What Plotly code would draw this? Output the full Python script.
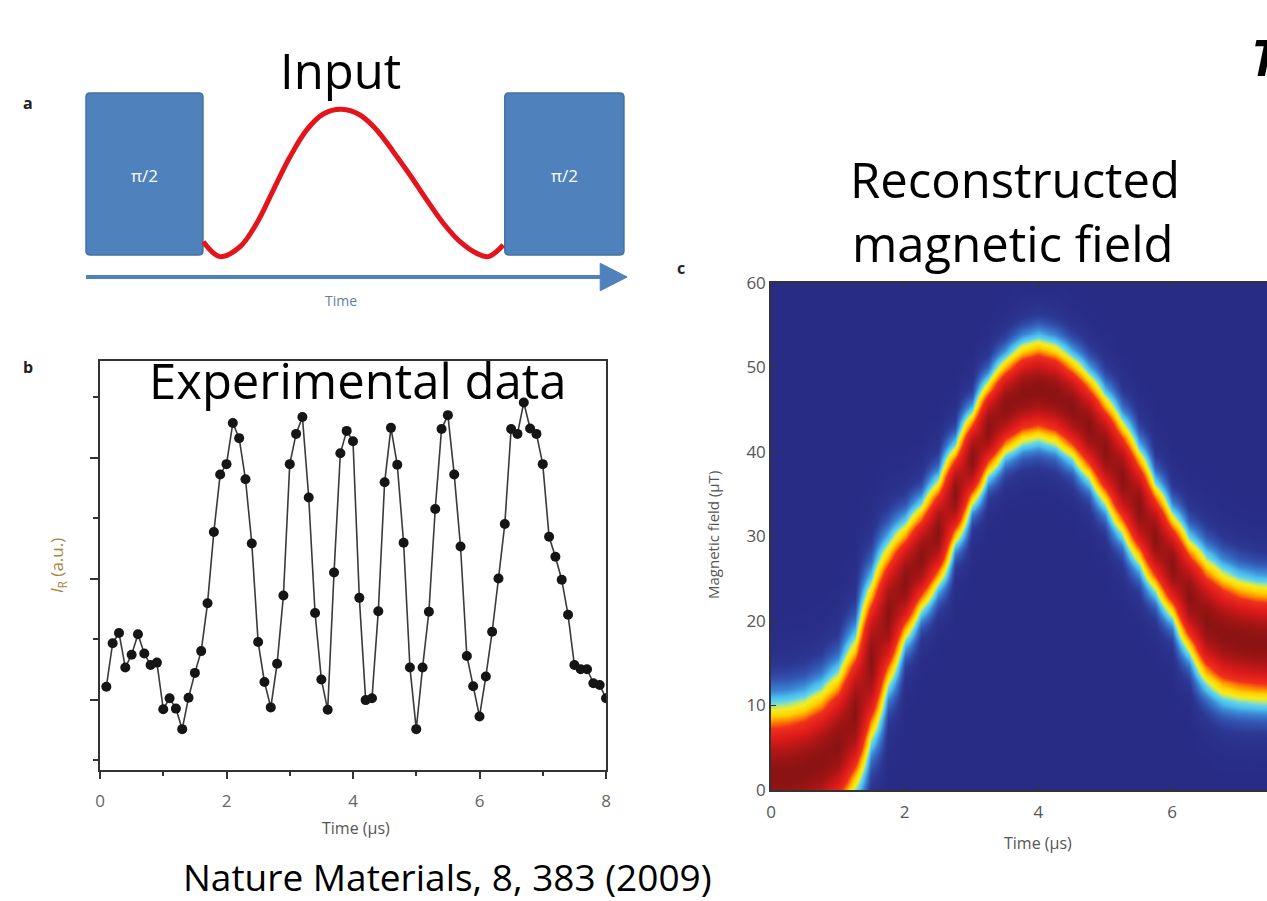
import numpy as np
import plotly.graph_objects as go

W, H = 1267, 901

# ---------------- Panel a : schematic pulse sequence ----------------
pulse_left = [0.0, 21.7]          # schematic time units
pulse_right = [77.7, 99.8]
pulse_label = "π/2"
input_t = [21.76, 24.86, 28.57, 31.67, 34.75, 37.85, 40.95, 44.03, 47.44, 50.83,
           53.93, 57.01, 60.11, 63.21, 66.29, 69.39, 72.49, 74.64, 77.42]
input_b = [0.082, -0.01, 0.051, 0.196, 0.401, 0.606, 0.772, 0.870, 0.899, 0.864,
           0.772, 0.638, 0.494, 0.340, 0.196, 0.082, 0.010, -0.01, 0.062]
arrow_y = -0.136
arrow_end = 100.4

# ---------------- Panel b : experimental data ----------------
exp_t = np.round(np.arange(1, 81) * 0.1, 1)
exp_i = [1.21, 1.93, 2.10, 1.53, 1.74, 2.08, 1.76, 1.57, 1.61, 0.84,
         1.02, 0.85, 0.51, 1.03, 1.44, 1.80, 2.59, 3.77, 4.72, 4.89,
         5.57, 5.32, 4.64, 3.58, 1.95, 1.29, 0.87, 1.59, 2.72, 4.89,
         5.39, 5.67, 4.34, 2.43, 1.33, 0.83, 3.10, 5.07, 5.44, 5.27,
         2.68, 0.99, 1.02, 2.46, 4.59, 5.49, 4.88, 3.59, 1.53, 0.51,
         1.53, 2.45, 4.15, 5.47, 5.70, 4.72, 3.53, 1.72, 1.22, 0.72,
         1.38, 2.12, 3.00, 3.90, 5.47, 5.39, 5.91, 5.48, 5.39, 4.89,
         3.69, 3.36, 2.98, 2.40, 1.57, 1.50, 1.50, 1.27, 1.24, 1.02]
b_xticks = [0, 2, 4, 6, 8]
b_xminor = [1, 3, 5, 7]
b_yticks = [1, 3, 5]
b_yminor = [0, 2, 4, 6]

# ---------------- Panel c : reconstructed field ----------------
rec_t = [0.0, 0.25, 0.5, 0.75, 1.0, 1.25, 1.5, 1.75, 2.0, 2.25, 2.5, 2.75, 3.0, 3.25,
         3.5, 3.75, 4.0, 4.25, 4.5, 4.75, 5.0, 5.25, 5.5, 5.75, 6.0, 6.25, 6.5,
         6.75, 7.0, 7.25, 7.5]
rec_upper = [10.4, 10.6, 11.1, 12.3, 14.3, 18.3, 25.0, 29.5, 31.8, 34.0, 37.0, 41.0,
             45.0, 48.7, 51.3, 53.0, 53.6, 53.0, 51.5, 49.5, 47.0, 44.0, 40.5, 36.5,
             33.0, 30.0, 27.8, 26.3, 25.3, 24.8, 24.6]
rec_lower = [-7.5, -7.2, -6.6, -5.5, -3.6, -0.3, 5.5, 12.0, 17.5, 21.0, 24.0, 29.0,
             33.5, 37.0, 39.5, 40.8, 41.2, 40.6, 39.0, 36.5, 33.5, 30.0, 26.5, 23.3,
             20.2, 16.0, 12.3, 10.8, 10.3, 10.1, 10.0]
rec_field = np.arange(0, 60.01, 0.5)
c_xticks = [0, 2, 4, 6]
c_yticks = [0, 10, 20, 30, 40, 50, 60]

up = np.array(rec_upper)
lo = np.array(rec_lower)
centre = (up + lo) / 2
half = (up - lo) / 2
Z = np.exp(-np.log(4) * ((rec_field[:, None] - centre[None, :]) / half[None, :]) ** 2)

jet_like = [
    [0.00, "#292c85"], [0.05, "#2c3894"], [0.10, "#3355b2"], [0.16, "#3b86d4"],
    [0.21, "#4cbdec"], [0.25, "#5fd3ee"], [0.29, "#b9e67a"], [0.33, "#f5ec1c"],
    [0.40, "#ffd000"], [0.47, "#ff8a00"], [0.55, "#f0301c"], [0.70, "#dc1a1a"],
    [0.85, "#b01616"], [1.00, "#8a1313"],
]


def px(x):
    return x / W


def py(y):
    return 1 - y / H


fig = go.Figure()

# panel a traces
fig.add_trace(go.Scatter(x=input_t, y=input_b, mode="lines",
                         line=dict(color="#e3141b", width=5, shape="spline"),
                         xaxis="x", yaxis="y", showlegend=False, hoverinfo="skip"))

# panel b
fig.add_trace(go.Scatter(x=exp_t, y=exp_i, mode="lines+markers",
                         line=dict(color="#3a3a3a", width=1.6),
                         marker=dict(color="#151515", size=10),
                         xaxis="x2", yaxis="y2", showlegend=False))

# panel c
fig.add_trace(go.Heatmap(x=rec_t, y=rec_field, z=Z, colorscale=jet_like, zmin=0, zmax=1,
                         zsmooth="best", showscale=False, xaxis="x3", yaxis="y3"))

rect_fill = "#4f81bd"
rect_line = "#41719c"
rx, ry = 0.75, 0.025   # corner rounding in schematic units
shapes = []
for p in (pulse_left, pulse_right):
    x0, x1, y0, y1 = p[0], p[1], 0.0, 1.0
    path = (f"M {x0 + rx},{y0} L {x1 - rx},{y0} Q {x1},{y0} {x1},{y0 + ry} "
            f"L {x1},{y1 - ry} Q {x1},{y1} {x1 - rx},{y1} L {x0 + rx},{y1} "
            f"Q {x0},{y1} {x0},{y1 - ry} L {x0},{y0 + ry} Q {x0},{y0} {x0 + rx},{y0} Z")
    shapes.append(dict(type="path", xref="x", yref="y", path=path,
                       fillcolor=rect_fill, line=dict(color=rect_line, width=1.5), layer="below"))
shapes.append(dict(type="line", xref="x", yref="y", x0=0, x1=arrow_end - 3.5,
                   y0=arrow_y, y1=arrow_y, line=dict(color=rect_fill, width=4)))
head_len, head_h = 5.0, 0.085
shapes.append(dict(type="path", xref="x", yref="y",
                   path=f"M {arrow_end - head_len},{arrow_y + head_h} L {arrow_end},{arrow_y} "
                        f"L {arrow_end - head_len},{arrow_y - head_h} Z",
                   fillcolor=rect_fill, line=dict(color=rect_fill, width=1)))

big = dict(family="Open Sans", size=49, color="#000000")

annotations = [
    dict(text="Input", x=px(340), y=py(70), font=big),
    dict(text="Experimental data", x=px(357), y=py(380), font=big),
    dict(text="Reconstructed", x=px(1015), y=py(179), font=big),
    dict(text="magnetic field", x=px(1013), y=py(243), font=big),
    dict(text="Nature Materials, 8, 383 (2009)", x=px(447), y=py(876),
         font=dict(family="Open Sans", size=37, color="#000000")),
    dict(text="<b><i>T</i></b>", x=px(1249), y=py(57), xanchor="left",
         font=dict(family="Open Sans", size=50, color="#000000")),
    dict(text="<b>a</b>", x=px(28), y=py(103), font=dict(family="Open Sans", size=16, color="#222")),
    dict(text="<b>b</b>", x=px(28), y=py(367), font=dict(family="Open Sans", size=16, color="#222")),
    dict(text="<b>c</b>", x=px(681), y=py(268), font=dict(family="Open Sans", size=16, color="#222")),
    dict(text="Time", x=px(341), y=py(300), font=dict(family="Open Sans", size=14, color="#5b7fa6")),
    dict(text="Time (µs)", x=px(356), y=py(828), font=dict(family="Open Sans", size=16, color="#555555")),
    dict(text="<i>I</i><sub>R</sub> (a.u.)", x=px(57), y=py(566), textangle=-90,
         font=dict(family="Open Sans", size=17, color="#a8843c")),
    dict(text="Time (µs)", x=px(1038), y=py(843), font=dict(family="Open Sans", size=16, color="#555555")),
    dict(text="Magnetic field (µT)", x=px(713), y=py(535), textangle=-90,
         font=dict(family="Open Sans", size=15, color="#555555")),
]
for a in annotations:
    a.setdefault("xref", "paper")
    a.setdefault("yref", "paper")
    a.setdefault("showarrow", False)
    a.setdefault("xanchor", "center")
    a.setdefault("yanchor", "middle")

# schematic pulse labels placed on the rectangles (data coords)
for p in (pulse_left, pulse_right):
    annotations.append(dict(text=pulse_label, x=(p[0] + p[1]) / 2, y=0.49, xref="x", yref="y",
                            showarrow=False, font=dict(family="Open Sans", size=17, color="white")))

fig.update_layout(
    width=W, height=H, margin=dict(l=0, r=0, t=0, b=0, autoexpand=False),
    paper_bgcolor="white", plot_bgcolor="rgba(0,0,0,0)",
    shapes=shapes, annotations=annotations,
    xaxis=dict(domain=[px(80), px(632)], range=[(80 - 86) / 5.39, (632 - 86) / 5.39],
               visible=False, anchor="y"),
    yaxis=dict(domain=[py(300), py(90)], range=[(255 - 300) / 162, (255 - 90) / 162],
               visible=False, anchor="x"),
    xaxis2=dict(domain=[px(100), px(606)], range=[0, 8], anchor="y2",
                showline=True, linecolor="#333", linewidth=1.5, mirror=True,
                ticks="outside", tickvals=b_xticks, ticklen=7, tickwidth=1.5, tickcolor="#333",
                minor=dict(tickvals=b_xminor, ticks="outside", ticklen=4, tickwidth=1.5, tickcolor="#333"),
                showgrid=False, zeroline=False, ticklabelstandoff=8,
                tickfont=dict(family="Open Sans", size=17, color="#666")),
    yaxis2=dict(domain=[py(770), py(361)], range=[-0.165, 6.595], anchor="x2",
                showline=True, linecolor="#333", linewidth=1.5, mirror=True,
                ticks="outside", tickvals=b_yticks, ticklen=8, tickwidth=1.5, tickcolor="#333",
                minor=dict(tickvals=b_yminor, ticks="outside", ticklen=5, tickwidth=1.5, tickcolor="#333"),
                showticklabels=False, showgrid=False, zeroline=False),
    xaxis3=dict(domain=[px(771), 1.0], range=[0, 7.42], anchor="y3",
                showline=True, linecolor="#333", linewidth=1.5, mirror="ticks",
                ticks="inside", tickvals=c_xticks, ticklen=5, tickcolor="#333",
                showgrid=False, zeroline=False, ticklabelstandoff=6,
                tickfont=dict(family="Open Sans", size=17, color="#555")),
    yaxis3=dict(domain=[py(790), py(283)], range=[0, 60], anchor="x3",
                showline=True, linecolor="#333", linewidth=1.5,
                ticks="inside", tickvals=c_yticks, ticklen=5, tickcolor="#333",
                showgrid=False, zeroline=False,
                tickfont=dict(family="Open Sans", size=17, color="#555")),
)

fig.write_html("out.html", config={"displayModeBar": False},
               post_script="document.body.style.margin='0';document.body.style.overflow='hidden';")
